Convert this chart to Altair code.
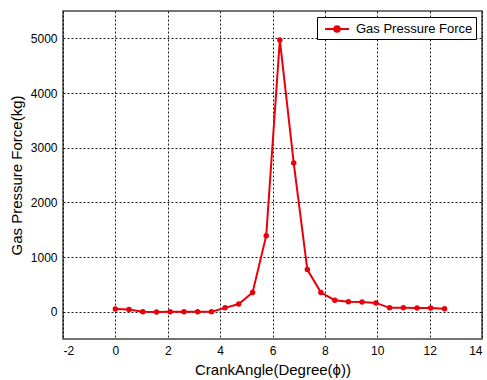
import altair as alt
import pandas as pd

angle = [0.0, 0.52, 1.05, 1.57, 2.09, 2.62, 3.14, 3.67, 4.19, 4.71, 5.24, 5.76,
         6.28, 6.81, 7.33, 7.85, 8.38, 8.90, 9.42, 9.95, 10.47, 11.00, 11.52, 12.04, 12.57]
force = [50, 40, 0, -5, 0, 0, 0, 0, 70, 140, 350, 1390,
         4970, 2720, 770, 350, 210, 180, 175, 160, 70, 70, 65, 65, 55]
series = ["Gas Pressure Force"] * len(angle)

df = pd.DataFrame({"angle": angle, "force": force, "series": series})

legend_symbol = "M-1.5,0L1.5,0M-0.35,0a0.35,0.35 0 1,0 0.7,0a0.35,0.35 0 1,0 -0.7,0Z"

base = alt.Chart(df).encode(
    x=alt.X("angle:Q", scale=alt.Scale(domain=[-2, 14], nice=False),
            axis=alt.Axis(values=list(range(-2, 15, 2)), labelExpr="toString(datum.value)",
                          title="CrankAngle(Degree(ϕ))")),
    y=alt.Y("force:Q", scale=alt.Scale(domain=[-500, 5500], nice=False),
            axis=alt.Axis(values=[0, 1000, 2000, 3000, 4000, 5000], labelExpr="toString(datum.value)",
                          title="Gas Pressure Force(kg)")),
    color=alt.Color("series:N", scale=alt.Scale(range=["#e8000b"]),
                    legend=alt.Legend(title=None, orient="top-right", offset=6,
                                      symbolType=legend_symbol, symbolSize=256,
                                      symbolStrokeWidth=2, symbolFillColor="#e8000b",
                                      symbolOffset=8, labelOffset=10,
                                      strokeColor="black", padding=3, labelFontSize=13,
                                      labelFont="Liberation Sans", labelColor="black",
                                      fillColor="white", cornerRadius=0)),
)

line = base.mark_line(strokeWidth=2)
pts = base.mark_circle(size=30, opacity=1)

chart = (line + pts).properties(
    width=419, height=328,
    padding={"left": 63, "top": 11, "right": 5, "bottom": 41},
    autosize=alt.AutoSizeParams(type="none"),
).configure_view(stroke="#444444", strokeWidth=1.5).configure_axis(
    grid=True, gridColor="black", gridDash=[2, 2], gridOpacity=0.9, gridWidth=1,
    domain=False, ticks=False,
    labelFont="Liberation Sans", labelFontSize=12, labelColor="black",
    titleFont="Liberation Sans", titleFontSize=15, titleFontWeight="normal", titleColor="black",
).configure_axisX(labelPadding=6, titlePadding=6).configure_axisY(labelPadding=6, titlePadding=6)

chart.save("out.html", embed_options={"renderer": "svg", "actions": False})
